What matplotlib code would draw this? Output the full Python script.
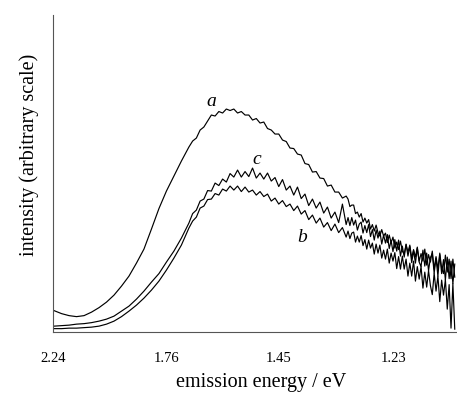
import numpy as np
import matplotlib
matplotlib.use("Agg")
import matplotlib.pyplot as plt

# wavelength grid (nm); the axis is linear in wavelength, labelled in eV
wl_rise = list(range(555, 736, 10))
wl_peak = list(range(740, 946, 5))
wl_tail = list(np.arange(947.5, 1090.1, 2.5))
wavelength = np.array(wl_rise + wl_peak + wl_tail)

# intensities, arbitrary scale
a_rise = [21.5, 18.5, 16.5, 15.5, 16.5, 20, 24.5, 30, 37, 46, 56, 69, 83, 103,
          123.5, 141, 156, 171, 185]
a_peak = [191, 194, 202, 205, 211, 217, 216, 220.5, 219, 223, 221.5, 223, 219,
          220.5, 217, 217, 212, 213.5, 209, 210, 203.5, 202, 198, 198, 192,
          190.5, 184, 183.5, 178, 177, 168.5, 167.5, 160, 160.5, 154, 153.5,
          146, 147, 140, 140, 134, 136]
a_tail = [133, 125.5, 127, 127, 118.5, 120, 115, 118.5, 110, 114,
          109, 112.5, 103, 107.5, 101, 107, 99.5, 96, 102.5, 96,
          99, 89.5, 97, 89.5, 95, 84, 90, 82.5, 91, 81,
          78, 87.5, 80, 87, 74, 82.5, 75, 85, 71, 78.5,
          71, 83, 67, 77.5, 70, 81, 63, 75.5, 63, 79,
          64, 58.5, 77, 60, 73, 53.5, 73, 55]

b_rise = [3.5, 3.5, 4, 4, 4.5, 5, 6, 8, 11, 15.5, 21, 27, 34, 42, 51, 62, 74,
          87, 104]
b_peak = [111, 115, 124, 126, 132.5, 133, 138.5, 137, 143, 141, 146, 142, 146,
          140.5, 145, 140, 142, 137, 140.5, 135.5, 138, 131, 134, 128, 131.5,
          125.5, 128, 121.5, 126, 118, 121.5, 112.5, 117, 109, 114, 105,
          109.5, 101.5, 108, 99.5, 104.5, 95]
b_tail = [101, 93.5, 99, 100, 90, 96, 90, 96.5, 86.5, 92.5,
          83, 92, 84, 89, 78, 88, 79, 87, 74, 82,
          73, 83, 69, 79, 71, 79.5, 63.5, 75.5, 63, 76,
          63, 73, 56, 69, 56, 71, 51, 65.5, 53, 65.5,
          44, 60, 45, 61.5, 46.5, 37.5, 59, 41, 56, 30.5,
          52, 37, 52.5, 23, 47.5, 4, 48.5, 3]

c_rise = [6, 6.5, 7, 8, 8.5, 9.5, 11, 13, 16, 21, 26, 33, 41, 50, 58.5, 70, 81,
          94, 109]
c_peak = [118.5, 122, 131, 133, 141.5, 141, 149, 146.5, 153, 150, 158.5, 155,
          162, 155, 160.5, 155.5, 164, 154, 159, 153, 159, 151, 154.5, 145.5,
          152.5, 142, 146, 137, 145, 133.5, 138, 126.5, 133, 124, 130, 119,
          125, 114, 120, 109.5, 128, 107.5]
c_tail = [114.5, 106.5, 114.5, 107, 112, 102, 108, 110, 99, 106.5,
          99.5, 107.5, 95.5, 102.5, 92, 102, 94, 101, 88, 97,
          89, 97.5, 83.5, 91.5, 80.5, 92.5, 81, 92, 76, 86,
          75, 88, 76, 85.5, 69.5, 81.5, 69, 84, 70, 65.5,
          82, 66, 79, 61.5, 74.5, 78.5, 59, 74, 56, 77.5,
          58.5, 72.5, 52, 75, 53.5, 71, 48.5, 68]

curve_a = a_rise + a_peak + a_tail
curve_b = b_rise + b_peak + b_tail
curve_c = c_rise + c_peak + c_tail

tick_ev = [2.24, 1.76, 1.45, 1.23]

plt.rcParams['font.family'] = ['Liberation Serif', 'DejaVu Serif']

fig = plt.figure(figsize=(4.57, 3.94), dpi=100)
ax = fig.add_axes([0.116, 0.157, 0.884, 0.805])

for curve in (curve_a, curve_b, curve_c):
    ax.plot(wavelength, curve, color='black', lw=0.85)

ax.set_xlim(1240 / 2.24, 1093)
ax.set_ylim(0, 317)

ax.set_xticks([1240 / e for e in tick_ev])
ax.set_xticklabels([f'{e:.2f}' for e in tick_ev], fontsize=10.5)
ax.tick_params(axis='x', length=0, pad=14)
ax.set_yticks([])

for side in ('top', 'right'):
    ax.spines[side].set_visible(False)
for side in ('left', 'bottom'):
    ax.spines[side].set_linewidth(0.8)
    ax.spines[side].set_color('#555555')

ax.set_xlabel('emission energy / eV', fontsize=14.5)
ax.xaxis.set_label_coords(0.515, -0.13)
ax.set_ylabel('intensity (arbitrary scale)', fontsize=14.5)
ax.yaxis.set_label_coords(-0.035, 0.558)

ax.text(765, 226, 'a', fontsize=14, style='italic', ha='center')
ax.text(826, 168, 'c', fontsize=14, style='italic', ha='center')
ax.text(886, 90, 'b', fontsize=14, style='italic', ha='center')

fig.savefig('out.png', dpi=100)
